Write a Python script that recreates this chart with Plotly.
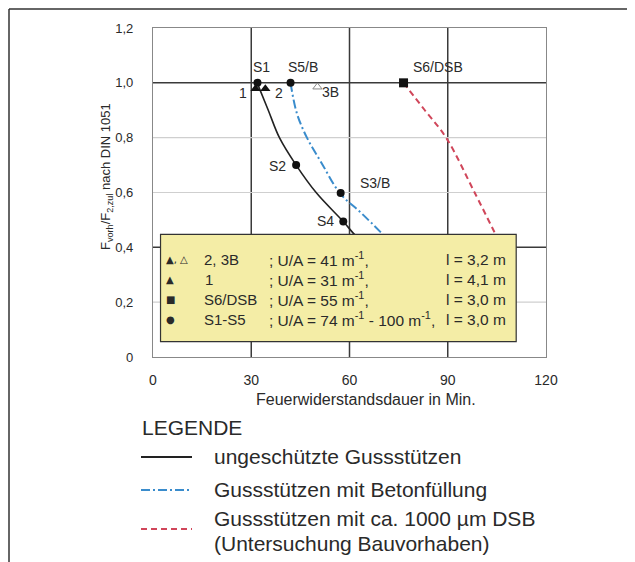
import plotly.graph_objects as go

# ---------------- data ----------------
X_TICKS = [0, 30, 60, 90, 120]
Y_TICKS = [0, 0.2, 0.4, 0.6, 0.8, 1.0, 1.2]
Y_TICKTEXT = ["0", "0,2", "0,4", "0,6", "0,8", "1,0", "1,2"]
GRID_X_DARK = [30, 60, 90]
GRID_Y_DARK = [0.4, 1.0]
GRID_Y_LIGHT = [0.2, 0.6, 0.8]

# curves
BLACK_X = [31.8, 35.2, 38.6, 43.7, 50.0, 58.1, 61.2, 63.0]
BLACK_Y = [1.0, 0.9, 0.8, 0.7, 0.597, 0.494, 0.451, 0.43]
BLUE_X = [42.0, 43.9, 47.0, 51.5, 57.1, 63.7, 70.8]
BLUE_Y = [1.0, 0.89, 0.8, 0.707, 0.597, 0.524, 0.44]
RED_X = [76.5, 83.0, 89.5, 98.2, 105.3]
RED_Y = [1.0, 0.9, 0.8, 0.6, 0.43]

# measured points
CIRCLE_X = [31.9, 42.0, 43.7, 57.3, 58.1]
CIRCLE_Y = [1.0, 1.0, 0.7, 0.598, 0.494]
CIRCLE_LABELS = ["S1", "S5/B", "S2", "S3/B", "S4"]
SQUARE_X = [76.5]
SQUARE_Y = [1.0]
SQUARE_LABELS = ["S6/DSB"]
TRI_X = [31.3, 34.3]
TRI_Y = [0.978, 0.978]
TRI_LABELS = ["1", "2"]
OTRI_X = [50.2]
OTRI_Y = [0.985]
OTRI_LABELS = ["3B"]

# info box rows
BOX_SYMBOLS = ["▲, △", "▲", "■", "●"]
BOX_NAMES = ["2, 3B", "1", "S6/DSB", "S1-S5"]
BOX_UA = ["; U/A = 41 m<sup>-1</sup>,", "; U/A = 31 m<sup>-1</sup>,",
          "; U/A = 55 m<sup>-1</sup>,", "; U/A = 74 m<sup>-1</sup> - 100 m<sup>-1</sup>,"]
BOX_L = ["l = 3,2 m", "l = 4,1 m", "l = 3,0 m", "l = 3,0 m"]
BOX_RANGE_X = [2.3, 110.9]
BOX_RANGE_Y = [0.056, 0.447]

LEGEND_TITLE = "LEGENDE"
LEGEND_TEXTS = ["ungeschützte Gussstützen", "Gussstützen mit Betonfüllung",
                "Gussstützen mit ca. 1000 µm DSB", "(Untersuchung Bauvorhaben)"]

# ---------------- layout helpers ----------------
# page coordinates (the html body adds an 8px offset)
W, H = 635, 562
OFF = 8
L, R, T, B = 153, 546, 28, 357
def px(x):
    return (x - L) / (R - L)
def py(y):
    return (B - y) / (B - T)

FONT = "Arial, Liberation Sans, Helvetica, sans-serif"
TXT = "#2a2a2a"
DARK = "#3a3a3a"
LIGHT = "#cfcfcf"

fig = go.Figure()

fig.add_trace(go.Scatter(x=BLACK_X, y=BLACK_Y, mode="lines",
                         line=dict(color="#222222", width=1.6, shape="spline", smoothing=1.0),
                         hoverinfo="skip"))
fig.add_trace(go.Scatter(x=BLUE_X, y=BLUE_Y, mode="lines",
                         line=dict(color="#3a8ccc", width=2, shape="spline", smoothing=1.0,
                                   dash="9px,3px,2px,3px"),
                         hoverinfo="skip"))
fig.add_trace(go.Scatter(x=RED_X, y=RED_Y, mode="lines",
                         line=dict(color="#d0465a", width=2, shape="spline", dash="6px,4px"),
                         hoverinfo="skip"))

fig.add_trace(go.Scatter(x=TRI_X, y=TRI_Y, mode="markers",
                         marker=dict(symbol="triangle-up", size=9, color="#111111"), hoverinfo="skip"))
fig.add_trace(go.Scatter(x=OTRI_X, y=OTRI_Y, mode="markers",
                         marker=dict(symbol="triangle-up-open", size=8, color="#8a8a8a",
                                     line=dict(width=1)), hoverinfo="skip"))
fig.add_trace(go.Scatter(x=CIRCLE_X, y=CIRCLE_Y, mode="markers",
                         marker=dict(symbol="circle", size=8, color="#111111"), hoverinfo="skip"))
fig.add_trace(go.Scatter(x=SQUARE_X, y=SQUARE_Y, mode="markers",
                         marker=dict(symbol="square", size=9, color="#111111"), hoverinfo="skip"))

shapes = []
for gx in GRID_X_DARK:
    shapes.append(dict(type="line", xref="x", yref="paper", x0=gx, x1=gx, y0=0, y1=1,
                       line=dict(color=DARK, width=1.5), layer="below"))
for gy in GRID_Y_DARK:
    shapes.append(dict(type="line", xref="paper", yref="y", x0=0, x1=1, y0=gy, y1=gy,
                       line=dict(color=DARK, width=1.5), layer="below"))
for gy in GRID_Y_LIGHT:
    shapes.append(dict(type="line", xref="paper", yref="y", x0=0, x1=1, y0=gy, y1=gy,
                       line=dict(color=LIGHT, width=1.2), layer="below"))
# info box
shapes.append(dict(type="rect", xref="x", yref="y", x0=BOX_RANGE_X[0], x1=BOX_RANGE_X[1],
                   y0=BOX_RANGE_Y[0], y1=BOX_RANGE_Y[1], fillcolor="#f4eda6",
                   line=dict(color="#333333", width=1.2), layer="above"))
# outer frame (top and left visible)
FR = OFF + 1
shapes.append(dict(type="line", xref="paper", yref="paper", x0=px(FR), x1=px(W + 5), y0=py(FR), y1=py(FR),
                   line=dict(color="#333333", width=1.5)))
shapes.append(dict(type="line", xref="paper", yref="paper", x0=px(FR), x1=px(FR), y0=py(FR), y1=py(H + 5),
                   line=dict(color="#333333", width=1.5)))
# legend samples
LEG_Y = [457, 490, 529]
LEG_STYLE = [("#222222", "solid"), ("#3a8ccc", "9px,3px,2px,3px"), ("#d0465a", "6px,4px")]
for ly, (c, d) in zip(LEG_Y, LEG_STYLE):
    shapes.append(dict(type="line", xref="paper", yref="paper", x0=px(141), x1=px(192),
                       y0=py(ly), y1=py(ly), line=dict(color=c, width=2, dash=d)))

ann = []
def lab(x, y, text, xs, ys, anchor="center", size=14):
    ann.append(dict(x=x, y=y, xref="x", yref="y", text=text, showarrow=False,
                    xshift=xs, yshift=ys, xanchor=anchor, yanchor="middle",
                    font=dict(family=FONT, size=size, color=TXT)))

circ_off = [(4, 16, "center"), (12, 16, "center"), (-8, -1, "right"), (17, 10, "left"), (-7, 1, "right")]
for x, y, t, (xs, ys, a) in zip(CIRCLE_X, CIRCLE_Y, CIRCLE_LABELS, circ_off):
    lab(x, y, t, xs, ys, a)
for x, y, t in zip(SQUARE_X, SQUARE_Y, SQUARE_LABELS):
    lab(x, y, t, 34, 16)
tri_off = [(-13, -4), (14, -4)]
for x, y, t, (xs, ys) in zip(TRI_X, TRI_Y, TRI_LABELS, tri_off):
    lab(x, y, t, xs, ys)
for x, y, t in zip(OTRI_X, OTRI_Y, OTRI_LABELS):
    lab(x, y, t, 13, -5)

def pann(x, y, text, anchor="left", size=15, family=FONT, angle=0):
    ann.append(dict(x=px(x), y=py(y), xref="paper", yref="paper", text=text, showarrow=False,
                    xanchor=anchor, yanchor="middle", textangle=angle,
                    font=dict(family=family, size=size, color=TXT)))

ROW_Y = [259, 279, 299, 319]
for ry, s, n, ua, l in zip(ROW_Y, BOX_SYMBOLS, BOX_NAMES, BOX_UA, BOX_L):
    pann(164, ry, s, size=10, family="DejaVu Sans")
    pann(202 if n != "1" else 203, ry, n)
    pann(267, ry, ua, size=15.5)
    pann(508, ry, l, anchor="right", size=15.5)

# axis titles
pann(366, 399, "Feuerwiderstandsdauer in Min.", anchor="center", size=16)
pann(106, 177, "F<sub>vorh</sub>/F<sub>2,zul</sub> nach DIN 1051", anchor="center", size=13, angle=-90)

# legend texts
pann(140, 427, LEGEND_TITLE, size=21)
LEG_TEXT_Y = [456, 489, 518, 543]
for ty, t in zip(LEG_TEXT_Y, LEGEND_TEXTS):
    pann(212, ty, t, size=21)

fig.update_layout(
    width=W - OFF, height=H - OFF,
    margin=dict(l=L - OFF, r=W - R, t=T - OFF, b=H - B, pad=0),
    paper_bgcolor="white", plot_bgcolor="white",
    showlegend=False,
    shapes=shapes, annotations=ann,
    xaxis=dict(range=[0, 120], tickvals=X_TICKS, ticktext=[str(v) for v in X_TICKS],
               showgrid=False, zeroline=False, showline=True, mirror=True,
               linecolor="#888888", linewidth=1.2, ticks="", ticklabelstandoff=10,
               tickfont=dict(family=FONT, size=14, color=TXT), fixedrange=True),
    yaxis=dict(range=[0, 1.2], tickvals=Y_TICKS, ticktext=Y_TICKTEXT,
               showgrid=False, zeroline=False, showline=True, mirror=True,
               linecolor="#888888", linewidth=1.2, ticks="", ticklabelstandoff=16,
               tickfont=dict(family=FONT, size=13, color=TXT), fixedrange=True),
)

fig.write_html("out.html")
